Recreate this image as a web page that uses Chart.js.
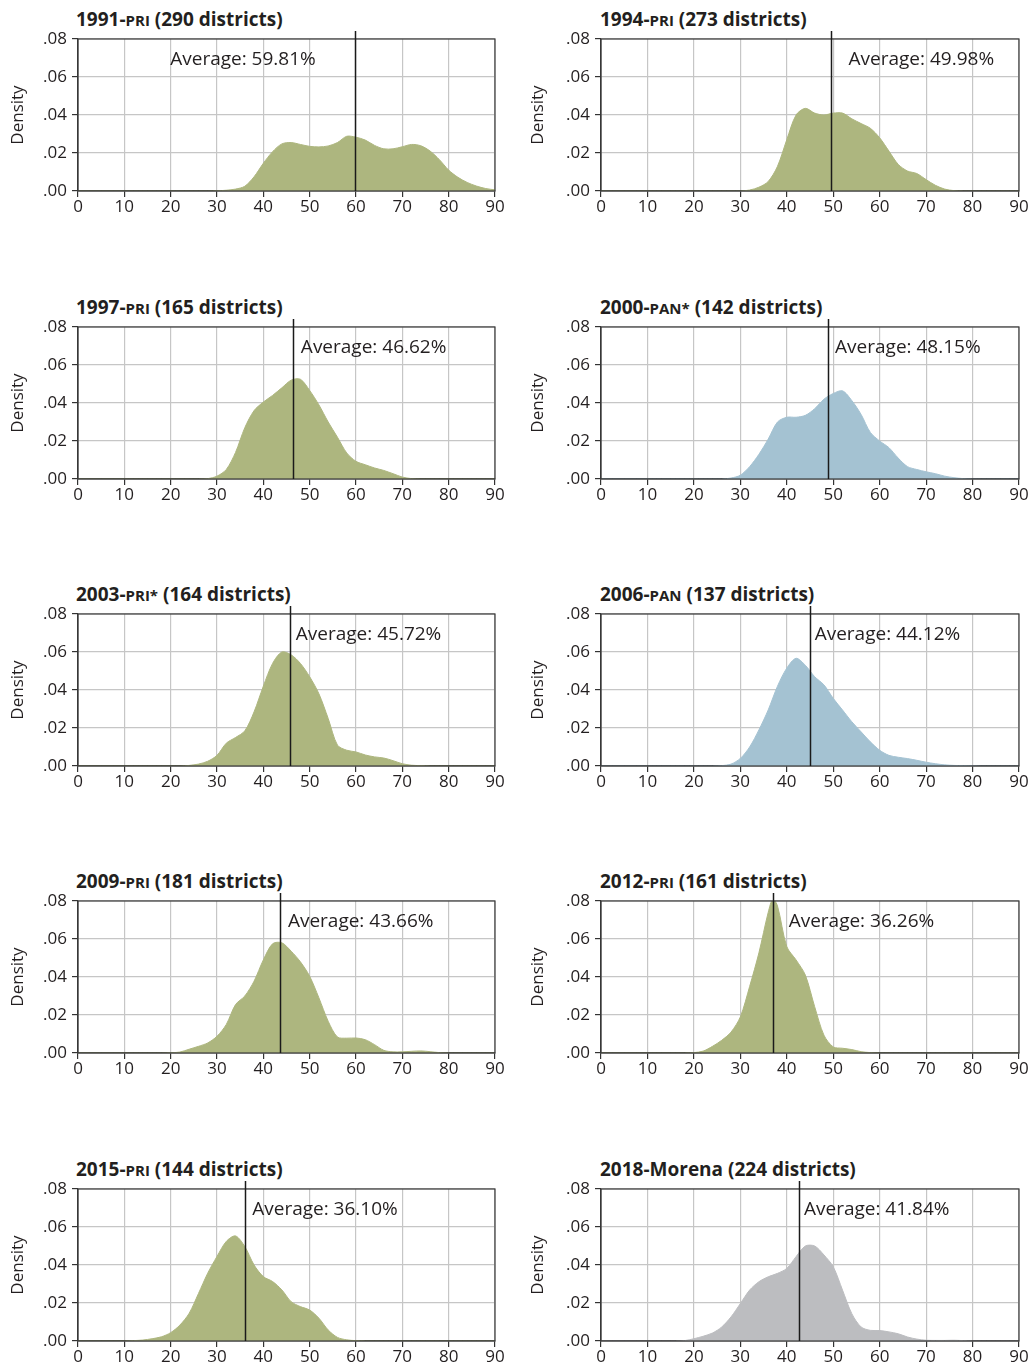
<!DOCTYPE html>
<html>
<head>
<meta charset="utf-8">
<script src="https://cdn.jsdelivr.net/npm/chart.js@4.4.1/dist/chart.umd.min.js"></script>
<style>
body { margin: 0; background: #fff; width: 1029px; height: 1363px; position: relative; overflow: hidden; font-family: "Open Sans", sans-serif; }
canvas { position: absolute; }
.ttl { position: absolute; font-weight: bold; font-size: 19px; line-height: 24px; color: #231f20; white-space: nowrap; }
.ttl small { font-size: 15px; }
</style>
</head>
<body>
<script>
// vote share grid (%) shared by the density curves
var X = [0, 10, 12, 14, 16, 18, 20, 22, 24, 26, 28, 30, 32, 34, 36, 38, 40, 42, 44, 46, 48,
         50, 52, 54, 56, 58, 60, 62, 64, 66, 68, 70, 72, 74, 76, 78, 80, 82, 84, 86, 88, 90];
// 2012 needs its sharp peak at 37
var X2012 = [0, 10, 12, 14, 16, 18, 20, 22, 24, 26, 28, 30, 32, 34, 36, 37, 38, 40, 42, 44, 46, 48,
             50, 52, 54, 56, 58, 60, 62, 64, 66, 68, 70, 72, 74, 76, 78, 80, 82, 84, 86, 88, 90];

var d1991 = [0,0,0,0,0,0,0,0,0,0,0,0.0001, 0.0004,0.0010,0.0025,0.0075,0.0146,0.0207,0.0248,0.0255,0.0245,0.0235,
             0.0232,0.0237,0.0255,0.0288,0.0283,0.0268,0.0240,0.0222,0.0222,0.0233,0.0245,0.0238,0.0210,0.0165,0.0110,
             0.0072,0.0045,0.0026,0.0013,0.0006];
var d1994 = [0,0,0,0,0,0,0,0,0,0,0,0, 0.0005,0.002,0.005,0.013,0.027,0.040,0.0435,0.041,0.040,0.041,
             0.041,0.038,0.0355,0.033,0.028,0.021,0.014,0.0105,0.0092,0.006,0.003,0.001,0.0002, 0,0,0,0,0,0,0];
var d1997 = [0,0,0,0,0,0,0,0,0,0, 0.0002,0.0015,0.005,0.014,0.027,0.036,0.0405,0.044,0.048,0.052,
             0.0525,0.0466,0.039,0.030,0.022,0.0137,0.0093,0.0075,0.0058,0.0045,0.0028,0.001,0.0002, 0,0,0,0,0,0,0,0,0];
var d2000 = [0,0,0,0,0,0,0,0,0,0, 0.0005,0.002,0.0065,0.013,0.021,0.030,0.0325,0.0325,0.0335,0.037,
             0.042,0.045,0.0464,0.0413,0.034,0.0245,0.020,0.0165,0.011,0.0065,0.005,0.0038,0.0028,0.0015,0.0007,0.0002,
             0,0,0,0,0,0];
var d2003 = [0,0,0,0,0,0,0,0, 0.0003,0.001,0.0025,0.0056,0.012,0.015,0.0185,0.0285,0.042,0.054,0.060,0.0585,
             0.054,0.047,0.038,0.025,0.011,0.0083,0.0074,0.0058,0.0048,0.0042,0.0028,0.0012,0.0004,0.0002, 0,0,0,0,0,0,0,0];
var d2006 = [0,0,0,0,0,0,0,0,0, 0.0002,0.001,0.004,0.010,0.019,0.0295,0.042,0.0515,0.0567,0.053,0.047,
             0.0427,0.0356,0.0295,0.0233,0.018,0.0127,0.0083,0.0056,0.0046,0.0039,0.003,0.002,0.0012,0.0006,0.0003,0.0002,0.0001,
             0,0,0,0,0];
var d2009 = [0,0,0,0,0,0, 0.0001,0.0005,0.002,0.0035,0.0053,0.0088,0.015,0.0255,0.030,0.0378,0.049,0.0575,0.058,0.0536,
             0.048,0.0404,0.029,0.0167,0.0084,0.0078,0.0079,0.007,0.0044,0.0014,0.0006,0.0006,0.0009,0.0011,0.0007,0.0002,
             0,0,0,0,0,0];
var d2012 = [0,0,0,0,0,0, 0.0002,0.001,0.0035,0.0067,0.011,0.019,0.035,0.0527,0.074,0.081,0.0774,0.056,0.049,0.041,
             0.0244,0.0094,0.0032,0.0025,0.0018,0.0007,0.0002, 0,0,0,0,0,0,0,0,0,0,0,0,0,0,0,0];
var d2015 = [0,0, 0.0002,0.0005,0.0012,0.0022,0.0044,0.0084,0.0146,0.025,0.0357,0.0445,0.0524,0.0553,0.0497,0.040,
             0.0339,0.0313,0.0269,0.0207,0.0181,0.0163,0.012,0.0058,0.0019,0.0006,0.0002, 0,0,0,0,0,0,0,0,0,0,0,0,0,0,0];
var d2018 = [0,0,0,0,0, 0.0002,0.0012,0.0025,0.0042,0.0074,0.0127,0.0197,0.0268,0.0312,0.0338,0.0356,0.0382,0.0444,0.050,0.050,
             0.0453,0.0391,0.0268,0.0144,0.0074,0.0056,0.0055,0.0048,0.0038,0.0021,0.001,0.0004,0.0003,0.0003,0.0004,0.0002,
             0,0,0,0,0,0];

var years = ['1991', '1994', '1997', '2000', '2003', '2006', '2009', '2012', '2015', '2018'];
var parties = ['PRI', 'PRI', 'PRI', 'PAN*', 'PRI*', 'PAN', 'PRI', 'PRI', 'PRI', 'Morena'];
var districts = [290, 273, 165, 142, 164, 137, 181, 161, 144, 224];
var averages = ['59.81', '49.98', '46.62', '48.15', '45.72', '44.12', '43.66', '36.26', '36.10', '41.84'];
var lineAt = [59.8, 49.6, 46.5, 48.9, 45.8, 44.9, 43.6, 37.1, 36.1, 42.6];   // where the line is drawn
var labelAt = [19.9, 53.3, 48.1, 50.4, 47.0, 46.0, 45.3, 40.4, 37.6, 43.7];  // left edge of the label
var densities = [d1991, d1994, d1997, d2000, d2003, d2006, d2009, d2012, d2015, d2018];
var grids = [X, X, X, X, X, X, X, X2012, X, X];
var yTicks = [0, 0.02, 0.04, 0.06, 0.08];

var fills = { PRI: '#adb67f', 'PRI*': '#adb67f', PAN: '#a4c2d2', 'PAN*': '#a4c2d2', Morena: '#bcbdc0' };
var rowTops = [0, 288, 575, 862, 1150];
var FONT = '"Open Sans", sans-serif';
var INK = '#231f20';

var avgPlugin = {
    id: 'avgLine',
    afterDatasetsDraw: function(chart, args, opts) {
        var ctx = chart.ctx, a = chart.chartArea;
        var xs = chart.scales.x, ys = chart.scales.y;
        ctx.save();
        ctx.strokeStyle = '#3b3b3b';
        ctx.lineWidth = 1.2;
        ctx.strokeRect(a.left, a.top, a.right - a.left, a.bottom - a.top);
        var px = Math.round(xs.getPixelForValue(opts.at)) + 0.5;
        ctx.strokeStyle = '#1a1a1a';
        ctx.lineWidth = 1.5;
        ctx.beginPath();
        ctx.moveTo(px, a.top - 8);
        ctx.lineTo(px, a.bottom);
        ctx.stroke();
        ctx.fillStyle = INK;
        ctx.font = '19px ' + FONT;
        ctx.textBaseline = 'middle';
        ctx.textAlign = 'left';
        ctx.fillText(opts.text, xs.getPixelForValue(opts.labelX), ys.getPixelForValue(0.07) + 2);
        ctx.restore();
    }
};

function drawPanel(i) {
    var col = i % 2, row = Math.floor(i / 2);
    var cx = col === 0 ? 0 : 520;
    var cy = rowTops[row];
    var p = parties[i];

    var t = document.createElement('div');
    t.className = 'ttl';
    t.style.left = (col === 0 ? 76 : 600) + 'px';
    t.style.top = (cy + 7) + 'px';
    t.innerHTML = years[i] + '-' + (p === 'Morena' ? p : '<small>' + p + '</small>') +
        ' (' + districts[i] + ' districts)';
    document.body.appendChild(t);

    var cv = document.createElement('canvas');
    cv.width = 520;
    cv.height = 240;
    cv.style.left = cx + 'px';
    cv.style.top = cy + 'px';
    document.body.appendChild(cv);

    var yw = col === 0 ? 78 : 81;
    var padR = col === 0 ? 520 - 495 : 520 - 499;
    var xv = grids[i], yv = densities[i];
    var pts = xv.map(function(x, k) { return { x: x, y: yv[k] }; });

    new Chart(cv.getContext('2d'), {
        type: 'line',
        data: {
            datasets: [{
                data: pts,
                fill: 'origin',
                backgroundColor: fills[p],
                borderColor: fills[p],
                borderWidth: 1,
                pointRadius: 0,
                tension: 0.3
            }]
        },
        options: {
            responsive: false,
            animation: false,
            events: [],
            layout: { padding: { left: 0, top: 39, right: padR, bottom: 0 } },
            plugins: {
                legend: { display: false },
                tooltip: { enabled: false },
                avgLine: { at: lineAt[i], labelX: labelAt[i], text: 'Average: ' + averages[i] + '%' }
            },
            scales: {
                x: {
                    type: 'linear', min: 0, max: 90,
                    afterFit: function(s) { s.height = 49; },
                    ticks: { stepSize: 10, padding: 0, color: INK, font: { family: FONT, size: 17 } },
                    grid: { color: '#c6c6c6', lineWidth: 1.2, tickLength: 6, tickColor: '#333' },
                    border: { color: '#333', width: 1.2 }
                },
                y: {
                    min: 0, max: 0.08,
                    afterFit: function(s) { s.width = yw; },
                    afterBuildTicks: function(s) { s.ticks = yTicks.map(function(v) { return { value: v }; }); },
                    ticks: {
                        padding: 5, color: INK, font: { family: FONT, size: 17 },
                        callback: function(v) { return v.toFixed(2).replace(/^0/, ''); }
                    },
                    grid: { color: '#c6c6c6', lineWidth: 1.2, tickLength: 6, tickColor: '#333' },
                    border: { color: '#333', width: 1.2 },
                    title: { display: true, text: 'Density', color: INK, font: { family: FONT, size: 17 }, padding: { top: 8, bottom: 0 } }
                }
            }
        },
        plugins: [avgPlugin]
    });
}

for (var i = 0; i < years.length; i++) drawPanel(i);
</script>
</body>
</html>
